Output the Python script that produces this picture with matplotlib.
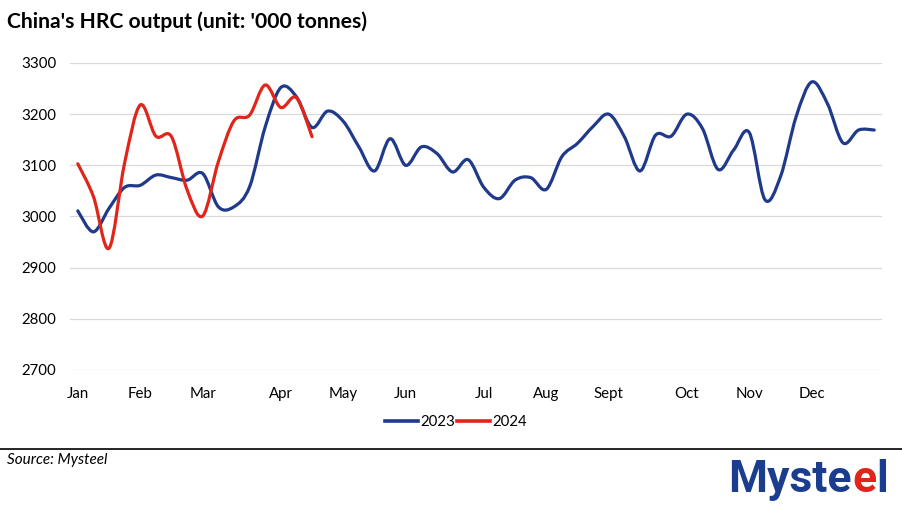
import numpy as np
import matplotlib.pyplot as plt
from matplotlib.path import Path
from matplotlib.patches import PathPatch
from matplotlib.lines import Line2D

plt.rcParams['font.family'] = ['Lato', 'DejaVu Sans']

# weekly output, '000 tonnes
hrc_2023 = [3011, 2970, 3016, 3057, 3061, 3081, 3076, 3071, 3084, 3019,
            3019, 3058, 3175, 3252, 3234, 3174, 3206, 3186, 3136, 3089,
            3152, 3100, 3136, 3123, 3087, 3111, 3057, 3035, 3071, 3076,
            3053, 3117, 3143, 3176, 3200, 3156, 3089, 3159, 3157, 3200,
            3172, 3092, 3130, 3164, 3033, 3078, 3195, 3263, 3221, 3144,
            3169, 3169]
hrc_2024 = [3103, 3039, 2938, 3105, 3218, 3157, 3156, 3052, 3001, 3107,
            3187, 3198, 3257, 3213, 3232, 3156]

month_weeks = [0, 4, 8, 13, 17, 21, 26, 30, 34, 39, 43, 47]
month_labels = ['Jan', 'Feb', 'Mar', 'Apr', 'May', 'Jun', 'Jul', 'Aug',
                'Sept', 'Oct', 'Nov', 'Dec']

blue = '#1f3a8a'
red = '#e1251b'


def smooth_path(y):
    # excel style smoothed line: cubic bezier through every point
    y = np.asarray(y, dtype=float)
    x = np.arange(len(y), dtype=float)
    p = np.column_stack([x, y])
    pp = np.vstack([p[0], p, p[-1]])
    verts = [p[0]]
    codes = [Path.MOVETO]
    for i in range(len(p) - 1):
        c1 = pp[i + 1] + (pp[i + 2] - pp[i]) / 6
        c2 = pp[i + 2] - (pp[i + 3] - pp[i + 1]) / 6
        verts += [c1, c2, pp[i + 2]]
        codes += [Path.CURVE4] * 3
    return Path(verts, codes)


fig = plt.figure(figsize=(9.03, 5.08), dpi=100)
ax = fig.add_axes([70 / 903, 1 - 370 / 508, 812 / 903, 307 / 508])

ax.add_patch(PathPatch(smooth_path(hrc_2023), fill=False, edgecolor=blue,
                       lw=2.3, capstyle='round', joinstyle='round', zorder=3))
ax.add_patch(PathPatch(smooth_path(hrc_2024), fill=False, edgecolor=red,
                       lw=2.3, capstyle='round', joinstyle='round', zorder=4))

ax.set_xlim(-0.5, 51.5)
ax.set_ylim(2700, 3300)
ax.set_yticks(np.arange(2700, 3301, 100))
ax.set_xticks(month_weeks)
ax.set_xticklabels(month_labels)
ax.grid(axis='y', color='#d9d9d9', lw=0.9)
ax.set_axisbelow(True)
for s in ax.spines.values():
    s.set_visible(False)
ax.tick_params(axis='both', length=0, labelsize=10.8, colors='#000000')
ax.tick_params(axis='x', pad=12)
ax.tick_params(axis='y', pad=10)

handles = [Line2D([], [], color=blue, lw=2.6), Line2D([], [], color=red, lw=2.6)]
fig.legend(handles, ['2023', '2024'], loc='center', bbox_to_anchor=(456 / 903, 1 - 422 / 508),
           ncol=2, frameon=False, fontsize=10.8, handlelength=2.2,
           handletextpad=0.15, columnspacing=0.15)

fig.text(7 / 903, 1 - 22 / 508, "China's HRC output (unit: '000 tonnes)",
         fontsize=15.2, fontweight='bold', va='center', ha='left')

fig.add_artist(Line2D([0, 1], [1 - 449 / 508, 1 - 449 / 508], color='black', lw=1.2))
fig.text(7 / 903, 1 - 460 / 508, 'Source: Mysteel', fontsize=11,
         style='italic', va='center', ha='left')

# logo as text, pieces placed side by side
r = fig.canvas.get_renderer()
x0 = 728 / 903
yl = 1 - 480 / 508
for part, col in [('Myste', '#1a3d8f'), ('e', red), ('l', '#1a3d8f')]:
    t = fig.text(x0, yl, part, fontsize=32, fontweight='bold', color=col,
                 family='Roboto', va='center', ha='left')
    bb = t.get_window_extent(r)
    x0 += bb.width / fig.bbox.width + 0.0005

fig.savefig('out.png', dpi=100)
